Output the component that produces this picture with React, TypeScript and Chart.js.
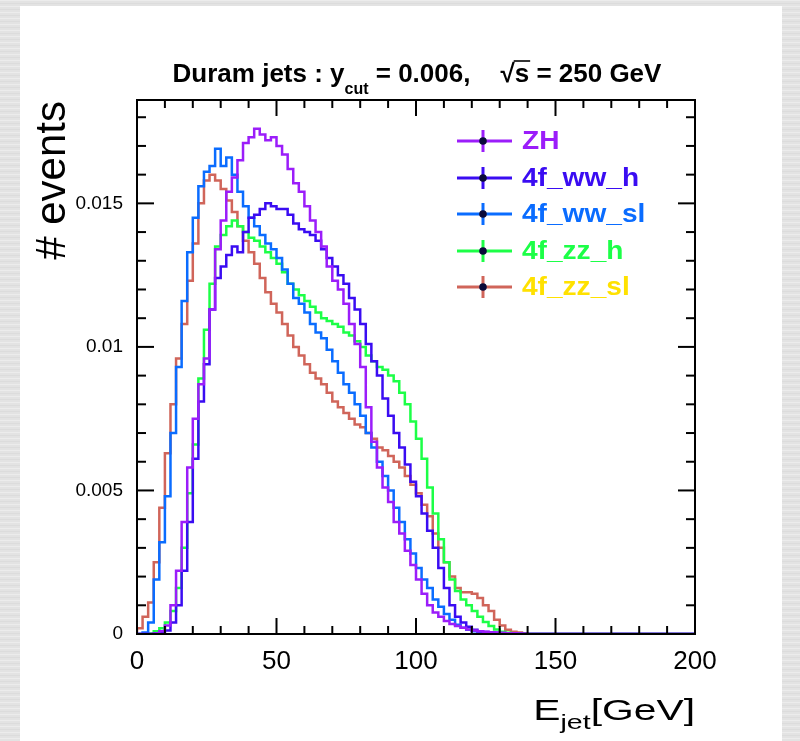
import React, { useEffect, useRef } from "react";
import { Chart, registerables } from "chart.js";

Chart.register(...registerables);

// ---------------- data ----------------
const BIN_WIDTH = 2; // GeV per histogram bin, bins start at 0
const X_MIN = 0;
const X_MAX = 200;
const Y_MIN = 0;
const Y_MAX = 0.0186;

const xTickValues = [0, 50, 100, 150, 200];
const xTickLabels = ["0", "50", "100", "150", "200"];
const X_MINOR_STEP = 10;
const yTickValues = [0, 0.005, 0.01, 0.015];
const yTickLabels = ["0", "0.005", "0.01", "0.015"];
const Y_MINOR_STEP = 0.001;

const seriesNames = ["ZH", "4f_ww_h", "4f_ww_sl", "4f_zz_h", "4f_zz_sl"];
const lineColors = ["#9b1dfa", "#3a0cf2", "#0a6cff", "#1cff47", "#d0655a"];
const textColors = ["#9b1dfa", "#3a0cf2", "#0a6cff", "#1cff47", "#ffe100"];

const zh = [0, 0, 0, 0.00002, 0.0001, 0.0003, 0.001, 0.0022, 0.0039, 0.0058, 0.0075, 0.0087, 0.0096, 0.0113, 0.0134, 0.0144, 0.0154, 0.0159, 0.0165, 0.0171, 0.0173, 0.0176, 0.0174, 0.0172, 0.0173, 0.017, 0.0167, 0.0162, 0.0157, 0.0154, 0.0149, 0.0144, 0.014, 0.0135, 0.0128, 0.0123, 0.012, 0.0115, 0.0108, 0.0101, 0.0093, 0.0079, 0.0067, 0.0058, 0.0051, 0.0046, 0.0039, 0.0035, 0.0029, 0.0024, 0.0019, 0.0014, 0.001, 0.00075, 0.0006, 0.00045, 0.00035, 0.00028, 0.00022, 0.00016, 0.00012, 0.0001, 0.00008, 0.00006, 0.00005, 0.00004, 0.00003, 0.00003, 0.00002, 0.00001];

const wwH = [0, 0, 0, 0.00002, 0.00005, 0.00012, 0.0004, 0.001, 0.0022, 0.0039, 0.0061, 0.0081, 0.0094, 0.0113, 0.0124, 0.0128, 0.0132, 0.0135, 0.0133, 0.014, 0.0145, 0.0146, 0.0148, 0.015, 0.0149, 0.0148, 0.0148, 0.0146, 0.0143, 0.0141, 0.014, 0.0139, 0.0137, 0.0134, 0.0131, 0.0128, 0.0125, 0.0122, 0.0117, 0.0113, 0.0108, 0.0101, 0.0095, 0.009, 0.0082, 0.0076, 0.007, 0.0065, 0.0059, 0.0053, 0.0048, 0.0042, 0.0036, 0.003, 0.0023, 0.0016, 0.001, 0.0006, 0.0004, 0.00025, 0.00015, 0.0001, 0.00007, 0.00005, 0.00004, 0.00003, 0.00002, 0.00001, 0.00001, 0];

const wwSl = [0, 0.00005, 0.0004, 0.0019, 0.0032, 0.0048, 0.007, 0.0093, 0.0116, 0.0133, 0.0145, 0.0156, 0.0161, 0.0163, 0.0169, 0.0163, 0.0166, 0.016, 0.0154, 0.0149, 0.0145, 0.0142, 0.0139, 0.0136, 0.0134, 0.0131, 0.0127, 0.0122, 0.0117, 0.0115, 0.0112, 0.0108, 0.0105, 0.0103, 0.0099, 0.0095, 0.0091, 0.0087, 0.0084, 0.008, 0.0076, 0.007, 0.0065, 0.006, 0.0055, 0.005, 0.0044, 0.0039, 0.0033, 0.0028, 0.0023, 0.0019, 0.0016, 0.0012, 0.00095, 0.0007, 0.0005, 0.00032, 0.00022, 0.00015, 0.0001, 0.00007, 0.00005, 0.00004, 0.00003, 0.00002, 0.00001, 0.00001, 0, 0];

const zzH = [0, 0, 0.00002, 0.0001, 0.0002, 0.0004, 0.0008, 0.0016, 0.003, 0.0049, 0.0066, 0.0089, 0.0106, 0.0122, 0.0135, 0.0139, 0.0142, 0.0144, 0.0142, 0.014, 0.0138, 0.0137, 0.0135, 0.0133, 0.0131, 0.0129, 0.0126, 0.0122, 0.012, 0.0118, 0.0116, 0.0114, 0.0112, 0.011, 0.0109, 0.0108, 0.0107, 0.0105, 0.0104, 0.0102, 0.01, 0.0097, 0.0095, 0.0093, 0.0092, 0.009, 0.0088, 0.0084, 0.008, 0.0074, 0.0068, 0.0061, 0.0051, 0.0042, 0.0033, 0.0025, 0.0019, 0.0015, 0.0012, 0.001, 0.0008, 0.0006, 0.00042, 0.00028, 0.00016, 0.00008, 0.00004, 0.00002, 0.00001, 0];

const zzSl = [0.0002, 0.0006, 0.0011, 0.0025, 0.0044, 0.0063, 0.008, 0.0096, 0.0108, 0.0123, 0.0136, 0.015, 0.0158, 0.016, 0.0158, 0.0155, 0.0151, 0.0147, 0.0142, 0.0137, 0.0133, 0.0129, 0.0124, 0.0119, 0.0115, 0.0112, 0.0108, 0.0104, 0.01, 0.0097, 0.0094, 0.0091, 0.0089, 0.0087, 0.0084, 0.0081, 0.0079, 0.0077, 0.0075, 0.0073, 0.0072, 0.007, 0.0068, 0.0065, 0.0064, 0.0062, 0.006, 0.0058, 0.0055, 0.0052, 0.0049, 0.0045, 0.0041, 0.0035, 0.003, 0.0025, 0.002, 0.0016, 0.00145, 0.00145, 0.0014, 0.00125, 0.001, 0.0008, 0.0005, 0.0003, 0.00015, 0.00008, 0.00005, 0.00003];

const seriesValues = [zh, wwH, wwSl, zzH, zzSl];

// ---------------- helpers ----------------
const FONT = "'Liberation Sans', Arial, Helvetica, sans-serif";

function histPoints(vals: number[]) {
  const pts: { x: number; y: number }[] = [{ x: X_MIN, y: 0 }];
  vals.forEach((v, i) => pts.push({ x: X_MIN + i * BIN_WIDTH, y: v }));
  pts.push({ x: X_MIN + vals.length * BIN_WIDTH, y: 0 });
  pts.push({ x: X_MAX, y: 0 });
  return pts;
}

function seg(ctx: CanvasRenderingContext2D, x1: number, y1: number, x2: number, y2: number) {
  ctx.beginPath();
  ctx.moveTo(x1, y1);
  ctx.lineTo(x2, y2);
  ctx.stroke();
}

const rootDecor = {
  id: "rootDecor",
  beforeDraw(chart: any) {
    const { ctx, width, height } = chart;
    ctx.save();
    ctx.fillStyle = "#e3e3e3";
    ctx.fillRect(0, 0, width, height);
    // paper-like streaks
    for (let yy = 0; yy < height; yy += 3) {
      ctx.fillStyle = (yy / 3) % 2 === 0 ? "#ececec" : "#dcdcdc";
      ctx.fillRect(0, yy, width, 1);
    }
    ctx.fillStyle = "#ffffff";
    ctx.fillRect(20, 6, 762, height - 6);
    ctx.restore();
  },
  afterDraw(chart: any) {
    const { ctx, chartArea: a, scales } = chart;
    const xs = scales.x;
    const ys = scales.y;
    ctx.save();
    ctx.strokeStyle = "#000";
    ctx.lineWidth = 2;
    ctx.strokeRect(a.left, a.top, a.right - a.left, a.bottom - a.top);

    // x ticks (inside, mirrored on top)
    for (let v = X_MIN; v <= X_MAX + 1e-9; v += X_MINOR_STEP) {
      const px = xs.getPixelForValue(v);
      const major = xTickValues.some((t) => Math.abs(t - v) < 1e-9);
      const len = major ? 16 : 8;
      seg(ctx, px, a.bottom, px, a.bottom - len);
      seg(ctx, px, a.top, px, a.top + len);
    }
    // y ticks (inside, mirrored on right)
    for (let i = 0; ; i++) {
      const v = Y_MIN + i * Y_MINOR_STEP;
      if (v > Y_MAX + 1e-12) break;
      const py = ys.getPixelForValue(v);
      const major = yTickValues.some((t) => Math.abs(t - v) < 1e-9);
      const len = major ? 17 : 9;
      seg(ctx, a.left, py, a.left + len, py);
      seg(ctx, a.right, py, a.right - len, py);
    }

    ctx.fillStyle = "#000";
    // x tick labels
    ctx.font = `26px ${FONT}`;
    ctx.textAlign = "center";
    ctx.textBaseline = "alphabetic";
    xTickValues.forEach((v, i) => {
      ctx.fillText(xTickLabels[i], xs.getPixelForValue(v), a.bottom + 35);
    });
    // y tick labels
    ctx.font = `19px ${FONT}`;
    ctx.textAlign = "right";
    ctx.textBaseline = "middle";
    yTickValues.forEach((v, i) => {
      ctx.fillText(yTickLabels[i], a.left - 14, ys.getPixelForValue(v));
    });

    // y axis title
    ctx.save();
    ctx.translate(65, a.top + 1);
    ctx.rotate(-Math.PI / 2);
    ctx.font = `42px ${FONT}`;
    ctx.textAlign = "right";
    ctx.textBaseline = "alphabetic";
    ctx.fillText("# events", 0, 0);
    ctx.restore();

    // x axis title: E_jet[GeV], right-aligned to frame
    ctx.save();
    ctx.textAlign = "left";
    ctx.textBaseline = "alphabetic";
    const big = `30px ${FONT}`;
    const small = `21px ${FONT}`;
    ctx.font = big;
    const wE = ctx.measureText("E").width;
    const wG = ctx.measureText("[GeV]").width;
    ctx.font = small;
    const wj = ctx.measureText("jet").width;
    const stretch = 1.36;
    const total = (wE + wj + wG) * stretch;
    ctx.translate(a.right - total, 720);
    ctx.scale(stretch, 1);
    ctx.font = big;
    ctx.fillText("E", 0, 0);
    ctx.font = small;
    ctx.fillText("jet", wE, 9);
    ctx.font = big;
    ctx.fillText("[GeV]", wE + wj, 0);
    ctx.restore();

    // title
    ctx.save();
    ctx.textAlign = "left";
    ctx.textBaseline = "alphabetic";
    const tf = `bold 26px ${FONT}`;
    const sf = `bold 16px ${FONT}`;
    const p1 = "Duram jets : y";
    const sub = "cut";
    const p2 = " = 0.006,";
    const gap = 30;
    const root = "\u221A";
    const sArg = "s";
    const p3 = " = 250 GeV";
    ctx.font = tf;
    const w1 = ctx.measureText(p1).width;
    const w2 = ctx.measureText(p2).width;
    const wr = ctx.measureText(root).width;
    const ws = ctx.measureText(sArg).width;
    const w3 = ctx.measureText(p3).width;
    ctx.font = sf;
    const wsub = ctx.measureText(sub).width;
    const tw = w1 + wsub + w2 + gap + wr + ws + w3;
    let tx = 417 - tw / 2;
    const ty = 82;
    ctx.font = tf;
    ctx.fillText(p1, tx, ty);
    tx += w1;
    ctx.font = sf;
    ctx.fillText(sub, tx, ty + 12);
    tx += wsub;
    ctx.font = tf;
    ctx.fillText(p2, tx, ty);
    tx += w2 + gap;
    ctx.fillText(root, tx, ty);
    ctx.lineWidth = 1.6;
    seg(ctx, tx + wr - 1, ty - 21, tx + wr + ws + 1, ty - 21);
    tx += wr;
    ctx.fillText(sArg, tx, ty);
    tx += ws;
    ctx.fillText(p3, tx, ty);
    ctx.restore();

    // legend
    ctx.save();
    const rowY = [141, 178, 214, 251, 287];
    seriesNames.forEach((name, i) => {
      const cy = rowY[i];
      ctx.strokeStyle = lineColors[i];
      ctx.lineWidth = 3;
      seg(ctx, 457, cy, 512, cy);
      seg(ctx, 483, cy - 11, 483, cy + 11);
      ctx.fillStyle = "#0a0a3a";
      ctx.beginPath();
      ctx.arc(483, cy, 3.8, 0, Math.PI * 2);
      ctx.fill();
      ctx.fillStyle = textColors[i];
      ctx.font = `bold 26px ${FONT}`;
      ctx.textAlign = "left";
      ctx.textBaseline = "middle";
      ctx.save();
      ctx.translate(522, cy + 1);
      ctx.scale(1.08, 1);
      ctx.fillText(name, 0, 0);
      ctx.restore();
    });
    ctx.restore();

    ctx.restore();
  },
};

export default function App() {
  const canvasRef = useRef<HTMLCanvasElement | null>(null);

  useEffect(() => {
    const canvas = canvasRef.current;
    if (!canvas) return;
    const datasets = seriesNames.map((name, i) => ({
      label: name,
      data: histPoints(seriesValues[i]),
      borderColor: lineColors[i],
      backgroundColor: lineColors[i],
      borderWidth: 2.5,
      pointRadius: 0,
      stepped: "before" as const,
      fill: false,
      tension: 0,
      order: i,
    }));
    const chart = new Chart(canvas, {
      type: "line",
      data: { datasets },
      options: {
        responsive: false,
        maintainAspectRatio: false,
        animation: false,
        devicePixelRatio: 1,
        layout: { padding: { left: 137, right: 105, top: 100, bottom: 107 } },
        plugins: {
          legend: { display: false },
          tooltip: { enabled: false },
          title: { display: false },
        },
        scales: {
          x: { type: "linear", min: X_MIN, max: X_MAX, display: false },
          y: { type: "linear", min: Y_MIN, max: Y_MAX, display: false },
        },
      },
      plugins: [rootDecor],
    });
    return () => chart.destroy();
  }, []);

  return (
    <div style={{ position: "absolute", left: 0, top: 0, width: 800, height: 741 }}>
      <canvas ref={canvasRef} width={800} height={741} style={{ display: "block", width: 800, height: 741 }} />
    </div>
  );
}
